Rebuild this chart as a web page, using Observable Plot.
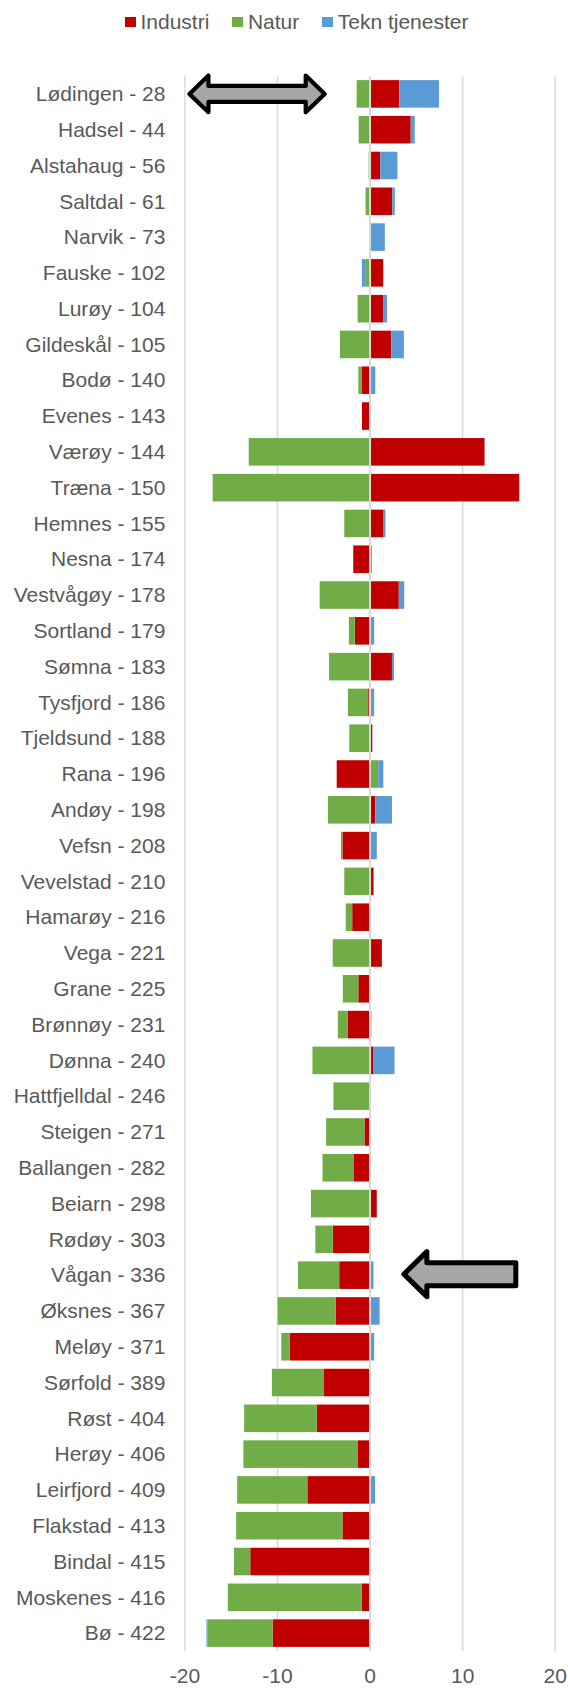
<!DOCTYPE html>
<html>
<head>
<meta charset="utf-8">
<script src="https://cdn.jsdelivr.net/npm/d3@7"></script>
<script src="https://cdn.jsdelivr.net/npm/@observablehq/plot@0.6"></script>
<style>
  html, body { margin: 0; padding: 0; background: #fff; }
  body { width: 568px; height: 1688px; overflow: hidden; font-family: "Liberation Sans", Arial, sans-serif; color: #595959; }
  #legend { height: 44px; display: flex; align-items: center; padding-left: 125px; font-size: 21px; }
  #legend .item { display: flex; align-items: center; margin-right: 23px; }
  #legend .sw { width: 11px; height: 10px; margin-right: 4.5px; }
  #chart svg { display: block; }
</style>
</head>
<body>
<div id="legend"></div>
<div id="chart"></div>
<script>
const municipalities = [
  "Lødingen - 28", "Hadsel - 44", "Alstahaug - 56", "Saltdal - 61", "Narvik - 73",
  "Fauske - 102", "Lurøy - 104", "Gildeskål - 105", "Bodø - 140", "Evenes - 143",
  "Værøy - 144", "Træna - 150", "Hemnes - 155", "Nesna - 174", "Vestvågøy - 178",
  "Sortland - 179", "Sømna - 183", "Tysfjord - 186", "Tjeldsund - 188", "Rana - 196",
  "Andøy - 198", "Vefsn - 208", "Vevelstad - 210", "Hamarøy - 216", "Vega - 221",
  "Grane - 225", "Brønnøy - 231", "Dønna - 240", "Hattfjelldal - 246", "Steigen - 271",
  "Ballangen - 282", "Beiarn - 298", "Rødøy - 303", "Vågan - 336", "Øksnes - 367",
  "Meløy - 371", "Sørfold - 389", "Røst - 404", "Herøy - 406", "Leirfjord - 409",
  "Flakstad - 413", "Bindal - 415", "Moskenes - 416", "Bø - 422"
];
const industri = [
  3.2, 4.45, 1.17, 2.46, 0.05,
  1.48, 1.45, 2.34, -0.86, -0.82,
  12.42, 16.17, 1.52, -1.76, 3.16,
  -1.6, 2.42, -0.15, 0.3, -3.55,
  0.62, -2.93, 0.43, -1.875, 1.33,
  -1.21, -2.38, 0.43, 0.1, -0.55,
  -1.68, 0.78, -3.98, -3.28, -3.67,
  -8.63, -4.92, -5.7, -1.25, -6.72,
  -2.93, -12.89, -0.86, -10.47
];
const natur = [
  -1.4, -1.17, -0.1, -0.43, 0,
  -0.4, -1.29, -3.2, -0.35, 0.1,
  -13.05, -16.95, -2.73, 0.25, -5.39,
  -0.63, -4.375, -2.19, -2.19, 0.94,
  -4.49, -0.16, -2.73, -0.7, -3.98,
  -1.68, -1.05, -6.17, -3.9, -4.14,
  -3.4, -6.33, -1.875, -4.45, -6.25,
  -0.9, -5.63, -7.85, -12.38, -7.58,
  -11.48, -1.76, -14.45, -7.03
];
const tekn = [
  4.3, 0.43, 1.84, 0.27, 1.6,
  -0.43, 0.43, 1.37, 0.62, 0,
  0, 0, 0.2, 0, 0.59,
  0.5, 0.23, 0.5, 0, 0.55,
  1.8, 0.78, 0, 0, 0,
  0, 0.2, 2.27, 0, 0,
  0.1, 0, 0, 0.43, 1.09,
  0.5, 0, 0, 0, 0.59,
  0, 0, 0, -0.12
];
const seriesNames = ["Industri", "Natur", "Tekn tjenester"];
const seriesColors = ["#c00000", "#70ad47", "#5b9bd5"];
const xTicks = [-20, -10, 0, 10, 20];

// annotation arrows (in data units)
const arrowRows = ["Lødingen - 28", "Vågan - 336"];
const arrowFrom = [-19.78, 3.33];
const arrowTo = [-4.52, 16.07];
const arrowDouble = [true, false];

// tidy table
const seriesValues = [industri, natur, tekn];
const data = [];
seriesNames.forEach((s, si) => {
  municipalities.forEach((m, mi) => {
    data.push({name: m, series: s, value: seriesValues[si][mi]});
  });
});

// legend
const legend = document.getElementById("legend");
seriesNames.forEach((s, i) => {
  const it = document.createElement("div");
  it.className = "item";
  it.innerHTML = `<span class="sw" style="background:${seriesColors[i]}"></span><span>${s}</span>`;
  legend.appendChild(it);
});

function arrowsMark(index, scales, values, dimensions) {
  const {x, y} = scales;
  const bw = y.bandwidth ? y.bandwidth() : 0;
  const g = d3.create("svg:g");
  arrowRows.forEach((r, i) => {
    const cy = y(r) + bw / 2 + (arrowDouble[i] ? 0 : -1);
    let d;
    if (arrowDouble[i]) {
      const x1 = x(arrowFrom[i]) + 3, x2 = x(arrowTo[i]) - 3;
      const h = 19, H = 18.3, s = 8;
      d = `M${x1},${cy} L${x1 + h},${cy - H} L${x1 + h},${cy - s} L${x2 - h},${cy - s} L${x2 - h},${cy - H} L${x2},${cy} L${x2 - h},${cy + H} L${x2 - h},${cy + s} L${x1 + h},${cy + s} L${x1 + h},${cy + H} Z`;
    } else {
      const x1 = x(arrowFrom[i]) + 3.5, x2 = x(arrowTo[i]) - 2.5;
      const h = 23, H = 22.5, s = 11.5;
      d = `M${x1},${cy} L${x1 + h},${cy - H} L${x1 + h},${cy - s} L${x2},${cy - s} L${x2},${cy + s} L${x1 + h},${cy + s} L${x1 + h},${cy + H} Z`;
    }
    g.append("path")
      .attr("d", d)
      .attr("fill", "#a6a6a6")
      .attr("stroke", "#000")
      .attr("stroke-width", arrowDouble[i] ? 4.2 : 5)
      .attr("stroke-linejoin", "round");
  });
  return g.node();
}

const chart = Plot.plot({
  width: 568,
  height: 1644,
  marginTop: 32,
  marginBottom: 37,
  marginLeft: 184.4,
  marginRight: 13.3,
  style: {fontFamily: "Liberation Sans, Arial, sans-serif", fontSize: "21px", color: "#595959", background: "#fff"},
  x: {domain: [-20, 20], ticks: xTicks},
  y: {domain: municipalities, paddingInner: 0.23, paddingOuter: 0.115},
  color: {domain: seriesNames, range: seriesColors},
  marks: [
    Plot.ruleX(xTicks.filter(t => t !== 0), {stroke: "#d9d9d9", strokeWidth: 1.5}),
    Plot.barX(data, Plot.stackX({y: "name", x: "value", fill: "series", z: "series", order: seriesNames})),
    Plot.ruleX([0], {stroke: "#d9d9d9", strokeWidth: 2}),
    Plot.axisX({ticks: xTicks, tickSize: 0, tickPadding: 16.5, fontSize: 21, label: null, tickFormat: d => String(d).replace("−", "-")}),
    Plot.axisY({tickSize: 0, tickPadding: 19.5, fontSize: 21, label: null}),
    arrowsMark
  ]
});
document.getElementById("chart").appendChild(chart);
</script>
</body>
</html>
